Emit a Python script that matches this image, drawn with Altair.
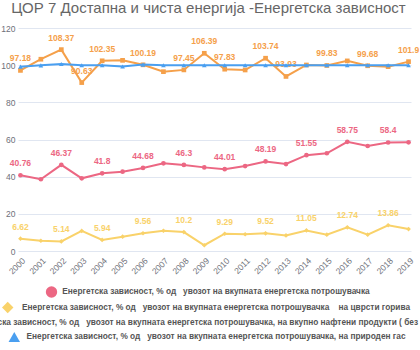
import altair as alt
import pandas as pd

# ---------------- data ----------------
years = [str(y) for y in range(2000, 2020)]

total = [40.76, 38.6, 46.37, 39.1, 41.8, 42.7, 44.68, 47.2, 46.3, 45.0,
         44.01, 45.7, 48.19, 46.8, 51.55, 52.6, 58.75, 56.5, 58.4, 58.5]
solid = [6.62, 5.5, 5.14, 10.8, 5.94, 7.7, 9.56, 10.9, 10.2, 3.1,
         9.29, 9.0, 9.52, 8.4, 11.05, 8.8, 12.74, 8.8, 13.86, 11.8]
oil = [97.18, 103.2, 108.37, 90.63, 102.35, 102.6, 100.19, 96.5, 97.45, 106.39,
       97.83, 97.4, 103.74, 93.93, 100.1, 99.83, 102.3, 99.68, 99.2, 101.9]
gas = [99.2, 99.9, 100.6, 100.0, 100.0, 99.3, 100.3, 100.0, 100.0, 100.0,
       100.0, 100.0, 100.0, 100.0, 100.0, 100.0, 100.0, 100.0, 100.0, 100.0]

# years whose value label is shown
total_labeled = ["2000", "2002", "2004", "2006", "2008", "2010", "2012", "2014", "2016", "2018"]
solid_labeled = ["2000", "2002", "2004", "2006", "2008", "2010", "2012", "2014", "2016", "2018"]
oil_labeled = ["2000", "2002", "2003", "2004", "2006", "2008", "2009", "2010", "2012",
               "2013", "2015", "2017", "2019"]
gas_labeled = []

NB = "\u00a0"
names = [
    "Енергетска зависност, % од" + NB * 3 + "увозот на вкупната енергетска потрошувачка",
    "Енергетска зависност, % од" + NB * 3 + "увозот на вкупната енергетска потрошувачка" + NB * 4 + "на цврсти горива",
    "Енергетска зависност, % од" + NB * 3 + "увозот на вкупната енергетска потрошувачка, на вкупно нафтени продукти ( без биогорива)",
    "Енергетска зависност, % од" + NB * 3 + "увозот на вкупната енергетска потрошувачка, на природен гас",
]
title_text = "ЦОР 7 Достапна и чиста енергија -Енергетска зависност"
y_ticks = [0, 20, 40, 60, 80, 100, 120]

# ---------------- styles ----------------
colors = ["#ec6783", "#f9d26a", "#f5a04a", "#4a9ff0"]
shapes = ["circle", "diamond", "square", "triangle-up"]
FONT = "Liberation Sans"
W, H = 393, 223
PAD = {"left": 18, "top": 28, "right": 9, "bottom": 99}

series = [total, solid, oil, gas]
labeled = [total_labeled, solid_labeled, oil_labeled, gas_labeled]

x_enc = alt.X("year:O", sort=years,
              scale=alt.Scale(type="point", padding=0.12),
              axis=alt.Axis(title=None, labelAngle=-45, labelFontSize=8.5, labelFont=FONT,
                            labelColor="#6e7079", domain=False, ticks=False, grid=False,
                            labelPadding=5))
y_enc = alt.Y("value:Q", scale=alt.Scale(domain=[0, 120], nice=False),
              axis=alt.Axis(title=None, values=y_ticks, labelFontSize=8.5, labelFont=FONT,
                            labelColor="#6e7079", domain=False, ticks=False,
                            gridColor="#e0e6f1", gridWidth=1, labelPadding=3))

layers = []
for i, (vals, lab) in enumerate(zip(series, labeled)):
    df = pd.DataFrame({"year": years, "value": vals,
                       "show": [y in lab for y in years]})
    base = alt.Chart(df)
    line = base.mark_line(color=colors[i], strokeWidth=2).encode(x=x_enc, y=y_enc)
    pts = base.mark_point(shape=shapes[i], filled=True, size=22, opacity=1,
                          color=colors[i]).encode(x=x_enc, y=y_enc)
    txt = base.transform_filter("datum.show").mark_text(
        color=colors[i], font=FONT, fontSize=8.5, fontWeight="bold",
        baseline="bottom", dy=-7).encode(x=x_enc, y=y_enc, text=alt.Text("value:Q"))
    layers += [line, pts, txt]

# ---------------- legend (custom, centred rows) ----------------
LEG_CX = 216 - PAD["left"]
LEG_ROWS = [292, 307.5, 322.5, 337]
CHAR_W = 4.38
for i, name in enumerate(names):
    yy = LEG_ROWS[i] - PAD["top"]
    half = len(name) * CHAR_W / 2
    layers.append(alt.Chart(pd.DataFrame({"n": [name]})).mark_text(
        font=FONT, fontSize=8.3, fontWeight="bold", color="#555555",
        align="center", baseline="middle").encode(
        x=alt.value(LEG_CX), y=alt.value(yy), text="n:N"))
    layers.append(alt.Chart(pd.DataFrame({"n": [name]})).mark_point(
        shape=shapes[i], filled=True, size=130, opacity=1,
        color=colors[i]).encode(x=alt.value(LEG_CX - half - 9), y=alt.value(yy)))

chart = alt.layer(*layers).properties(
    width=W, height=H,
    padding=PAD,
    autosize=alt.AutoSizeParams(type="none"),
    title=alt.TitleParams(title_text, font=FONT, fontSize=15, fontWeight="normal",
                          color="#666666", anchor="middle", baseline="alphabetic",
                          offset=-4, dx=-6),
).configure_view(stroke=None)

chart.save("out.html", embed_options={"renderer": "svg", "actions": False})
